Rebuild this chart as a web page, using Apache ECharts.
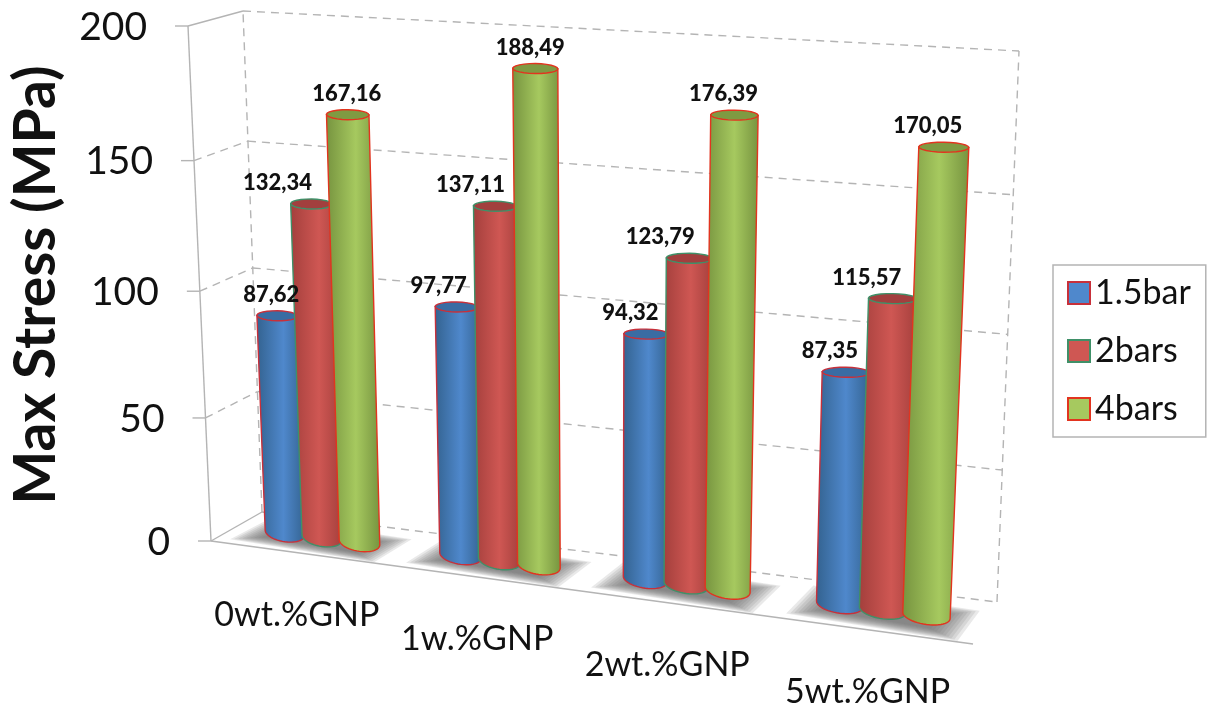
<!DOCTYPE html>
<html>
<head>
<meta charset="utf-8">
<style>html,body{margin:0;padding:0;background:#fff}#chart{width:1209px;height:706px}</style>
<script src="https://cdn.jsdelivr.net/npm/echarts@6/dist/echarts.min.js"></script>
</head>
<body>
<div id="chart"></div>
<script>
var categories = ['0wt.%GNP', '1w.%GNP', '2wt.%GNP', '5wt.%GNP'];
var seriesNames = ['1.5bar', '2bars', '4bars'];
var bar15 = [87.62, 97.77, 94.32, 87.35];
var bar2 = [132.34, 137.11, 123.79, 115.57];
var bar4 = [167.16, 188.49, 176.39, 170.05];
var yTicks = [0, 50, 100, 150, 200];

// 3D look: corners of the front and back planes of the box
var frontPlane = quad([211, 541], [973, 644], [1000, 75], [188, 26]);
var backPlane = quad([262, 512], [997, 602], [1019, 51], [243, 11]);
var font = 'Lato, "Open Sans", sans-serif';
var gridColor = '#b4b4b4';
var barDepth = 0.5;

var looks = [
	{dark: '#33628f', light: '#4f88cc', top: '#3a6ca3', edge: '#c8303a', labelDx: [-6, -18, -16, -16]},
	{dark: '#a33f3c', light: '#cf5753', top: '#a23f3e', edge: '#3f9068', labelDx: [-34, -25, -29, -26]},
	{dark: '#76933f', light: '#a6c95f', top: '#7f9a42', edge: '#e2341f', labelDx: [-1, -5, -11, -16]}
];

// unit square to quad, p0 bottom left, p1 bottom right, p2 top right, p3 top left
function quad(p0, p1, p2, p3){
	var dx1 = p1[0]-p2[0], dx2 = p3[0]-p2[0], sx = p0[0]-p1[0]+p2[0]-p3[0];
	var dy1 = p1[1]-p2[1], dy2 = p3[1]-p2[1], sy = p0[1]-p1[1]+p2[1]-p3[1];
	var den = dx1*dy2-dx2*dy1;
	var g = (sx*dy2-dx2*sy)/den, h = (dx1*sy-sx*dy1)/den;
	return function(u, v){
		var w = g*u+h*v+1;
		return [((p1[0]-p0[0]+g*p1[0])*u+(p3[0]-p0[0]+h*p3[0])*v+p0[0])/w,
			((p1[1]-p0[1]+g*p1[1])*u+(p3[1]-p0[1]+h*p3[1])*v+p0[1])/w];
	};
}
// u,v inside the grid, z 0 front to 1 back
function project(u, v, z){
	var f = frontPlane(u, v), b = backPlane(u, v);
	return [f[0]+(b[0]-f[0])*z, f[1]+(b[1]-f[1])*z];
}
function toUV(pt, rect){
	return [(pt[0]-rect.x)/rect.width, (rect.y+rect.height-pt[1])/rect.height];
}
function line(a, b, dashed){
	return {type: 'line', shape: {x1: a[0], y1: a[1], x2: b[0], y2: b[1]}, silent: true,
		style: {stroke: gridColor, lineWidth: 1.4, lineDash: dashed ? [8, 6] : null}};
}
function label(x, y, text, size, align, weight){
	return {type: 'text', z2: 20, silent: true, style: {x: x, y: y, text: text, fill: '#111', textAlign: align,
		textVerticalAlign: 'middle', font: (weight || 'normal')+' '+size+'px '+font}};
}
// half ellipse points between l and r, sag is the depth on screen
function arc(l, r, sag, from, to){
	var pts = [], cx = (l[0]+r[0])/2, cy = (l[1]+r[1])/2;
	for(var i = 0; i <= 24; i++){
		var t = from+(to-from)*i/24;
		pts.push([cx+Math.cos(t)*(r[0]-cx), cy+Math.cos(t)*(r[1]-cy)+Math.sin(t)*sag]);
	}
	return pts;
}

function renderFrame(params, api){
	var rect = params.coordSys, kids = [];
	yTicks.forEach(function(t){
		var v = toUV(api.coord([0, t]), rect)[1];
		var a = project(0, v, 0);
		var solid = t == 0 || t == 200;
		kids.push(line(project(0, v, 1), project(1, v, 1), true));
		kids.push(line(a, project(0, v, 1), !solid));
		kids.push(line(a, [a[0]-13, a[1]], false));
		kids.push(label(a[0]-41, a[1]+1, String(t), 39, 'right'));
	});
	kids.push(line(project(0, 0, 0), project(0, 1, 0), false));
	kids.push(line(project(0, 0, 1), project(0, 1, 1), true));
	kids.push(line(project(1, 0, 1), project(1, 1, 1), true));
	kids.push(line(project(0, 0, 0), project(1, 0, 0), false));
	categories.forEach(function(c, i){
		var u = toUV(api.coord([i, 0]), rect)[0];
		var p = project(u, 0, 0);
		kids.push(label(p[0]-1, p[1]+62, c, 34, 'center'));
	});
	return {type: 'group', children: kids};
}

// soft floor shadow, stacked see-through layers
function renderShadow(params, api){
	var rect = params.coordSys, kids = [];
	var u = toUV(api.coord([api.value(0), 0]), rect)[0];
	for(var k = 0; k < 10; k++){
		var du = 0.106-k*0.0042, dz = k*0.022;
		kids.push({type: 'polygon', silent: true, shape: {points: [
			project(u-du, 0, 0.12+dz), project(u+du, 0, 0.02+dz), project(u+du+0.005, 0, 0.76-dz), project(u-du+0.005, 0, 0.86-dz)
		]}, style: {fill: 'rgba(110,110,110,0.15)'}});
	}
	return {type: 'group', children: kids};
}

function barRenderer(s){
	var look = looks[s];
	return function(params, api){
		var rect = params.coordSys, value = api.value(1), cat = api.value(0);
		var band = api.size([1, 0])[0];
		var base = api.coord([cat, 0]), top = api.coord([cat, value]);
		var cu = toUV([base[0]+(s-1)*band*0.215, 0], rect)[0], half = 0.029;
		var v = toUV(top, rect)[1];
		var tl = project(cu-half, v, barDepth), tr = project(cu+half, v, barDepth);
		var bl = project(cu-half, 0, barDepth), br = project(cu+half, 0, barDepth);
		var fill = new echarts.graphic.LinearGradient(0, 0, 1, 0, [
			{offset: 0, color: look.dark}, {offset: 0.55, color: look.light}, {offset: 1, color: look.dark}]);
		// tops stay almost level in the picture
		var tc = [(tl[0]+tr[0])/2, (tl[1]+tr[1])/2], lean = (tr[1]-tl[1])*0.1;
		var tl2 = [tl[0], tc[1]-lean], tr2 = [tr[0], tc[1]+lean];
		var body = [tl2].concat(arc(bl, br, 9, Math.PI, 0)).concat([tr2]);
		return {type: 'group', children: [
			{type: 'polygon', shape: {points: body}, style: {fill: fill, stroke: look.edge, lineWidth: 1.4}},
			{type: 'polygon', shape: {points: arc(tl2, tr2, 5, 0, Math.PI*2)}, style: {fill: look.top, stroke: look.edge, lineWidth: 1.4}},
			label(tc[0]+look.labelDx[cat], tc[1]-21, value.toFixed(2).replace('.', ','), 22, 'center', '900')
		]};
	};
}
function toPairs(values){
	return values.map(function(v, i){return [i, v];});
}

var option = {
	animation: false,
	backgroundColor: '#fff',
	grid: {left: 200, top: 0, width: 800, height: 570},
	xAxis: {type: 'category', data: categories, axisLine: {show: false}, axisTick: {show: false}, axisLabel: {show: false}},
	yAxis: {type: 'value', min: 0, max: 200, interval: 50, axisLine: {show: false}, axisTick: {show: false}, axisLabel: {show: false},
		splitLine: {show: false}, name: 'Max Stress (MPa)', nameLocation: 'middle', nameRotate: 90, nameGap: 135,
		nameTextStyle: {fontFamily: font, fontSize: 57, fontWeight: 'bold', color: '#111'}},
	legend: {orient: 'vertical', left: 1053, top: 265, padding: [11, 15, 11, 14], itemWidth: 22, itemHeight: 22, itemGap: 24,
		borderColor: '#b4b4b4', borderWidth: 1.5, selectedMode: false, textStyle: {fontFamily: font, fontSize: 34, color: '#111'},
		data: seriesNames.map(function(n, s){
			return {name: n, icon: 'rect', itemStyle: {color: looks[s].light, borderColor: looks[s].edge, borderWidth: 2}};
		})},
	series: [
		{type: 'custom', name: 'frame', data: [[0, 0]], renderItem: renderFrame, silent: true},
		{type: 'custom', name: 'shadow', data: toPairs(bar4), renderItem: renderShadow, silent: true},
		{type: 'custom', name: seriesNames[0], data: toPairs(bar15), renderItem: barRenderer(0)},
		{type: 'custom', name: seriesNames[1], data: toPairs(bar2), renderItem: barRenderer(1)},
		{type: 'custom', name: seriesNames[2], data: toPairs(bar4), renderItem: barRenderer(2)}
	]
};
var chart = echarts.init(document.getElementById('chart'));
chart.setOption(option);
</script>
</body>
</html>
